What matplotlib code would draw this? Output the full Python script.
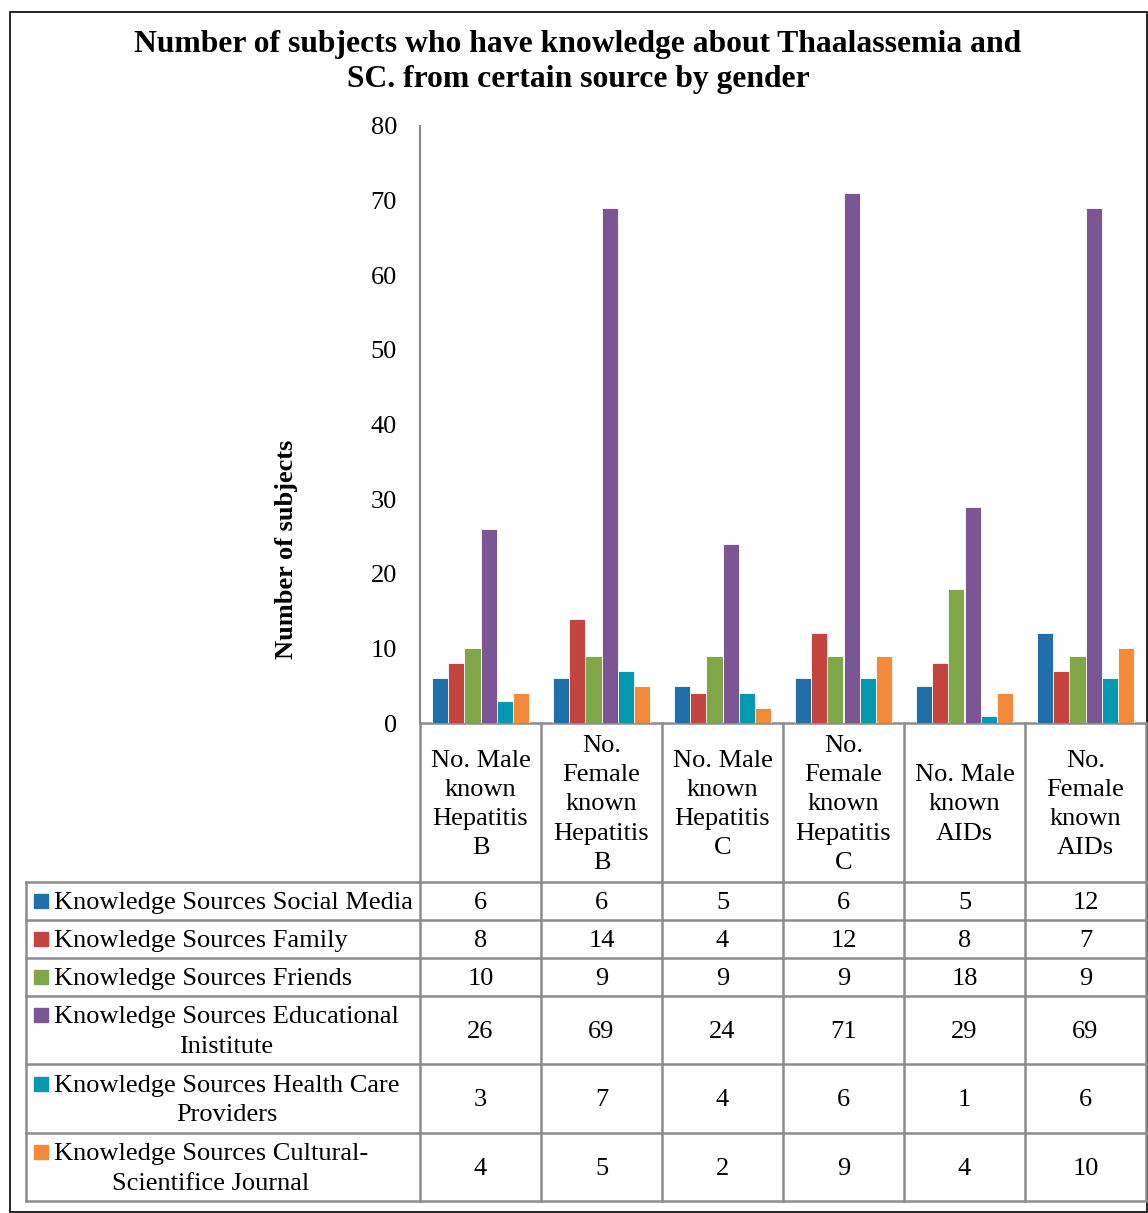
"""Bar chart with data table: knowledge sources by gender"""
import matplotlib.pyplot as plt
import numpy as np

plt.rcParams['font.family'] = ['Liberation Serif', 'DejaVu Serif']

# data
categories = ["No. Male\nknown\nHepatitis\nB", "No.\nFemale\nknown\nHepatitis\nB",
              "No. Male\nknown\nHepatitis\nC", "No.\nFemale\nknown\nHepatitis\nC",
              "No. Male\nknown\nAIDs", "No.\nFemale\nknown\nAIDs"]
series_names = ["Knowledge Sources Social Media",
                "Knowledge Sources Family",
                "Knowledge Sources Friends",
                "Knowledge Sources Educational\nInistitute",
                "Knowledge Sources Health Care\nProviders",
                "Knowledge Sources Cultural-\nScientifice Journal"]
social_media = [6, 6, 5, 6, 5, 12]
family = [8, 14, 4, 12, 8, 7]
friends = [10, 9, 9, 9, 18, 9]
educational = [26, 69, 24, 71, 29, 69]
health_care = [3, 7, 4, 6, 1, 6]
journal = [4, 5, 2, 9, 4, 10]
series = [social_media, family, friends, educational, health_care, journal]
colors = ['#1F6FAA', '#C4443F', '#7FA748', '#7B5594', '#0599B1', '#F38A3A']

W, H = 1148, 1213
FS = 19
LS = 1.42
fig = plt.figure(figsize=(W / 100, H / 100), dpi=100)

# overlay in pixel coordinates for table / frame
ov = fig.add_axes([0, 0, 1, 1])
ov.set_xlim(0, W)
ov.set_ylim(H, 0)
ov.axis('off')

# plot area
x0, x1, y0, y1 = 420, 1146, 126, 723
ax = fig.add_axes([x0 / W, (H - y1) / H, (x1 - x0) / W, (y1 - y0) / H])
n = len(categories)
x = np.arange(n)
w = 0.134
for i, (vals, c) in enumerate(zip(series, colors)):
    ax.bar(x + (i - 2.5) * w, vals, w, color=c, edgecolor='white', linewidth=0.6)
ax.set_xlim(-0.5, n - 0.5)
ax.set_ylim(0, 80)
ax.set_yticks(range(0, 81, 10))
ax.set_xticks([])
ax.tick_params(axis='y', length=0, pad=16.5, labelsize=FS)
for s in ['top', 'right', 'bottom']:
    ax.spines[s].set_visible(False)
ax.spines['left'].set_color('#888888')
ax.spines['left'].set_linewidth(1.5)
ax.patch.set_alpha(0)

# title and y label
fig.text(578 / W, 1 - 62 / H, "Number of subjects who have knowledge about Thaalassemia and\nSC. from certain source by gender",
         ha='center', va='center', fontsize=22.8, fontweight='bold', linespacing=1.3)
fig.text(287 / W, 1 - 549 / H, "Number of subjects", rotation=90, ha='center', va='center',
         fontsize=FS, fontweight='bold')

# table
grid = dict(color='#8c8c8c', lw=1.8)
col_edges = np.linspace(x0, x1, n + 1)
row_edges = [882, 920, 958, 996, 1064, 1133, 1201]
left = 26
ov.plot([x0, x1], [y1, y1], **grid)
for xe in col_edges:
    ov.plot([xe, xe], [y1, row_edges[-1]], **grid)
ov.plot([left, left], [row_edges[0], row_edges[-1]], **grid)
for ye in row_edges:
    ov.plot([left, x1], [ye, ye], **grid)

col_centers = (col_edges[:-1] + col_edges[1:]) / 2
for cx, lab in zip(col_centers, categories):
    ov.text(cx, (y1 + row_edges[0]) / 2 + 2, lab, ha='center', va='center', fontsize=FS,
            multialignment='center', linespacing=LS)

for r, (name, vals, c) in enumerate(zip(series_names, series, colors)):
    cy = (row_edges[r] + row_edges[r + 1]) / 2 + 2
    nlines = name.count('\n') + 1
    ov.text(54, cy, name, ha='left', va='center', fontsize=FS, multialignment='center',
            linespacing=LS)
    sq = cy - 2 - (nlines - 1) * 15
    ov.add_patch(plt.Rectangle((34, sq - 7), 14, 14, color=c))
    for cx, v in zip(col_centers, vals):
        ov.text(cx, cy, str(v), ha='center', va='center', fontsize=FS)

# outer frame
ov.add_patch(plt.Rectangle((10, 12), 1137, 1200, fill=False, edgecolor='black', lw=1.2))

fig.savefig('out.png', dpi=100)
